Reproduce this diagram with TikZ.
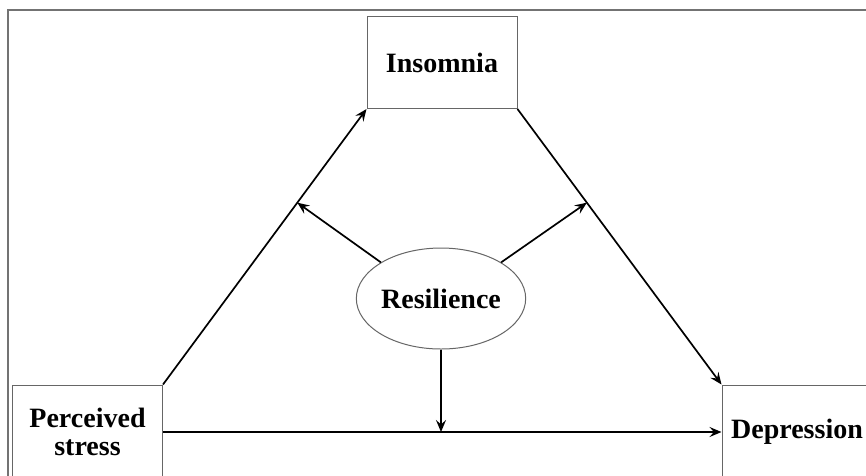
\documentclass[tikz,border=0pt]{standalone}
\usepackage{fontspec}
\setmainfont{Liberation Serif}
\usetikzlibrary{shapes.geometric,arrows.meta}
\begin{document}
\begin{tikzpicture}[x=1pt,y=-1pt,
		label font/.style={font=\fontsize{28}{28}\selectfont\bfseries},
		box/.style={draw=black!60,line width=1pt,rectangle,minimum width=150pt,minimum height=92pt,inner sep=0pt,align=center,label font},
		oval/.style={draw=black!60,line width=1pt,ellipse,minimum width=168pt,minimum height=101pt,inner sep=0pt,label font},
		link/.style={line width=1.7pt,-{Stealth[length=12pt,width=10pt,inset=4.5pt]}}]
		\useasboundingbox (0,0) rectangle (866,475);
		\clip (0,0) rectangle (866,475);
		\fill [white] (0,0) rectangle (866,475);
		\draw [black!55,line width=2pt] (8,490) -- (8,9.5) -- (880,9.5);
		\node [box] (insomnia) at (442,62.5) {Insomnia};
		\node [box,minimum height=94pt] (stress) at (87.5,432) {Perceived\\stress};
		\node [box,minimum height=94pt] (depression) at (797,432) {Depression};
		\node [oval] (resilience) at (441,298.5) {Resilience};
		\draw [link] (stress.north east) -- coordinate[pos=0.66] (lhit) (insomnia.south west);
		\draw [link] (insomnia.south east) -- coordinate[pos=0.34] (rhit) (depression.north west);
		\draw [link] (stress.east) -- (depression.west);
		\draw [link] (resilience.149) -- (lhit);
		\draw [link] (resilience.31) -- (rhit);
		\draw [link] (resilience.south) -- (resilience.south |- stress.east);
	\end{tikzpicture}
\end{document}
